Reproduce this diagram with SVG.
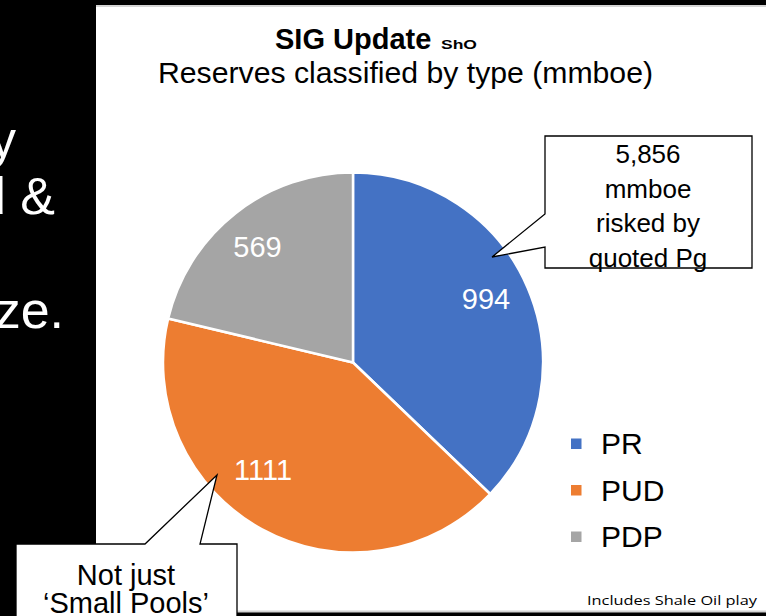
<svg xmlns="http://www.w3.org/2000/svg" width="766" height="616" viewBox="0 0 766 616">
<style>
  .bg { fill: #000000; }
  .panel { fill: #ffffff; }
  .edge { fill: #d4d4d4; }
  .side { font-family: "Liberation Sans", Arial, sans-serif; font-size: 52px; fill: #ffffff; text-anchor: end; }
  .title { font-family: "Liberation Sans", Arial, sans-serif; font-size: 29px; font-weight: bold; fill: #000000; }
  .tag { font-family: "Liberation Sans", Arial, sans-serif; font-size: 13px; font-weight: bold; fill: #000000; }
  .sub { font-family: "Liberation Sans", Arial, sans-serif; font-size: 30px; fill: #000000; text-anchor: middle; }
  .slice { stroke: #ffffff; stroke-width: 2.5; stroke-linejoin: round; }
  .val { font-family: "Liberation Sans", Arial, sans-serif; font-size: 29px; fill: #ffffff; text-anchor: middle; }
  .leg { font-family: "Liberation Sans", Arial, sans-serif; font-size: 30px; fill: #000000; }
  .callout { fill: #ffffff; stroke: #000000; stroke-width: 1.3; stroke-linejoin: miter; }
  .ctext { font-family: "Liberation Sans", Arial, sans-serif; font-size: 26px; fill: #000000; text-anchor: middle; }
  .ctext2 { font-family: "Liberation Sans", Arial, sans-serif; font-size: 29px; fill: #000000; text-anchor: middle; }
  .note { font-family: "Open Sans", "Noto Sans", sans-serif; font-size: 13.5px; fill: #000000; }
</style>

<rect class="bg" x="0" y="0" width="766" height="616"/>

<g id="slide-text">
  <text class="side" x="16" y="157">y</text>
  <text class="side" x="55" y="214">d &amp;</text>
  <text class="side" x="64" y="328">ze.</text>
</g>

<g id="chart-panel">
  <rect class="panel" x="96" y="5" width="670" height="607"/>
  <rect class="edge" x="96" y="5" width="670" height="2"/>
  <rect class="edge" x="96" y="610.5" width="670" height="2"/>
</g>

<g id="title">
  <text class="title" x="275" y="49">SIG Update</text>
  <text class="tag" x="441" y="49" textLength="36" lengthAdjust="spacingAndGlyphs">ShO</text>
  <text class="sub" x="405.5" y="83" textLength="495" lengthAdjust="spacingAndGlyphs">Reserves classified by type (mmboe)</text>
</g>

<g id="pie">
  <g id="slice-PR">
    <path class="slice" fill="#4472C4" d="M353,362.5 L353,172.5 A190,190 0 0 1 490.13,494.01 Z"/>
    <text class="val" x="486" y="309">994</text>
  </g>
  <g id="slice-PUD">
    <path class="slice" fill="#ED7D31" d="M353,362.5 L490.13,494.01 A190,190 0 0 1 168.17,318.48 Z"/>
    <text class="val" x="263" y="480">1111</text>
  </g>
  <g id="slice-PDP">
    <path class="slice" fill="#A5A5A5" d="M353,362.5 L168.17,318.48 A190,190 0 0 1 353,172.5 Z"/>
    <text class="val" x="257.5" y="257">569</text>
  </g>
</g>

<g id="legend">
  <g id="legend-PR">
    <rect x="571" y="438.5" width="10.5" height="10.5" fill="#4472C4"/>
    <text class="leg" x="601" y="453.5">PR</text>
  </g>
  <g id="legend-PUD">
    <rect x="571" y="485" width="10.5" height="10.5" fill="#ED7D31"/>
    <text class="leg" x="601" y="500.5">PUD</text>
  </g>
  <g id="legend-PDP">
    <rect x="571" y="531.5" width="10.5" height="10.5" fill="#A5A5A5"/>
    <text class="leg" x="601" y="547">PDP</text>
  </g>
</g>

<g id="callout-risked">
  <path class="callout" d="M545,136 H752 V268 H545 V247 L492,257 L545,214 Z"/>
  <text class="ctext" x="648" y="163">5,856</text>
  <text class="ctext" x="648" y="197.5">mmboe</text>
  <text class="ctext" x="648" y="232">risked by</text>
  <text class="ctext" x="648" y="266.5">quoted Pg</text>
</g>

<g id="callout-pools">
  <path class="callout" d="M16,544 H145 L217,475 L200,544 H237 V622 H16 Z"/>
  <text class="ctext2" x="126" y="585">Not just</text>
  <text class="ctext2" x="126" y="613">‘Small Pools’</text>
</g>

<g id="note">
  <text class="note" x="587" y="605" textLength="170" lengthAdjust="spacingAndGlyphs">Includes Shale Oil play</text>
</g>

<g id="connectors"></g>
</svg>
